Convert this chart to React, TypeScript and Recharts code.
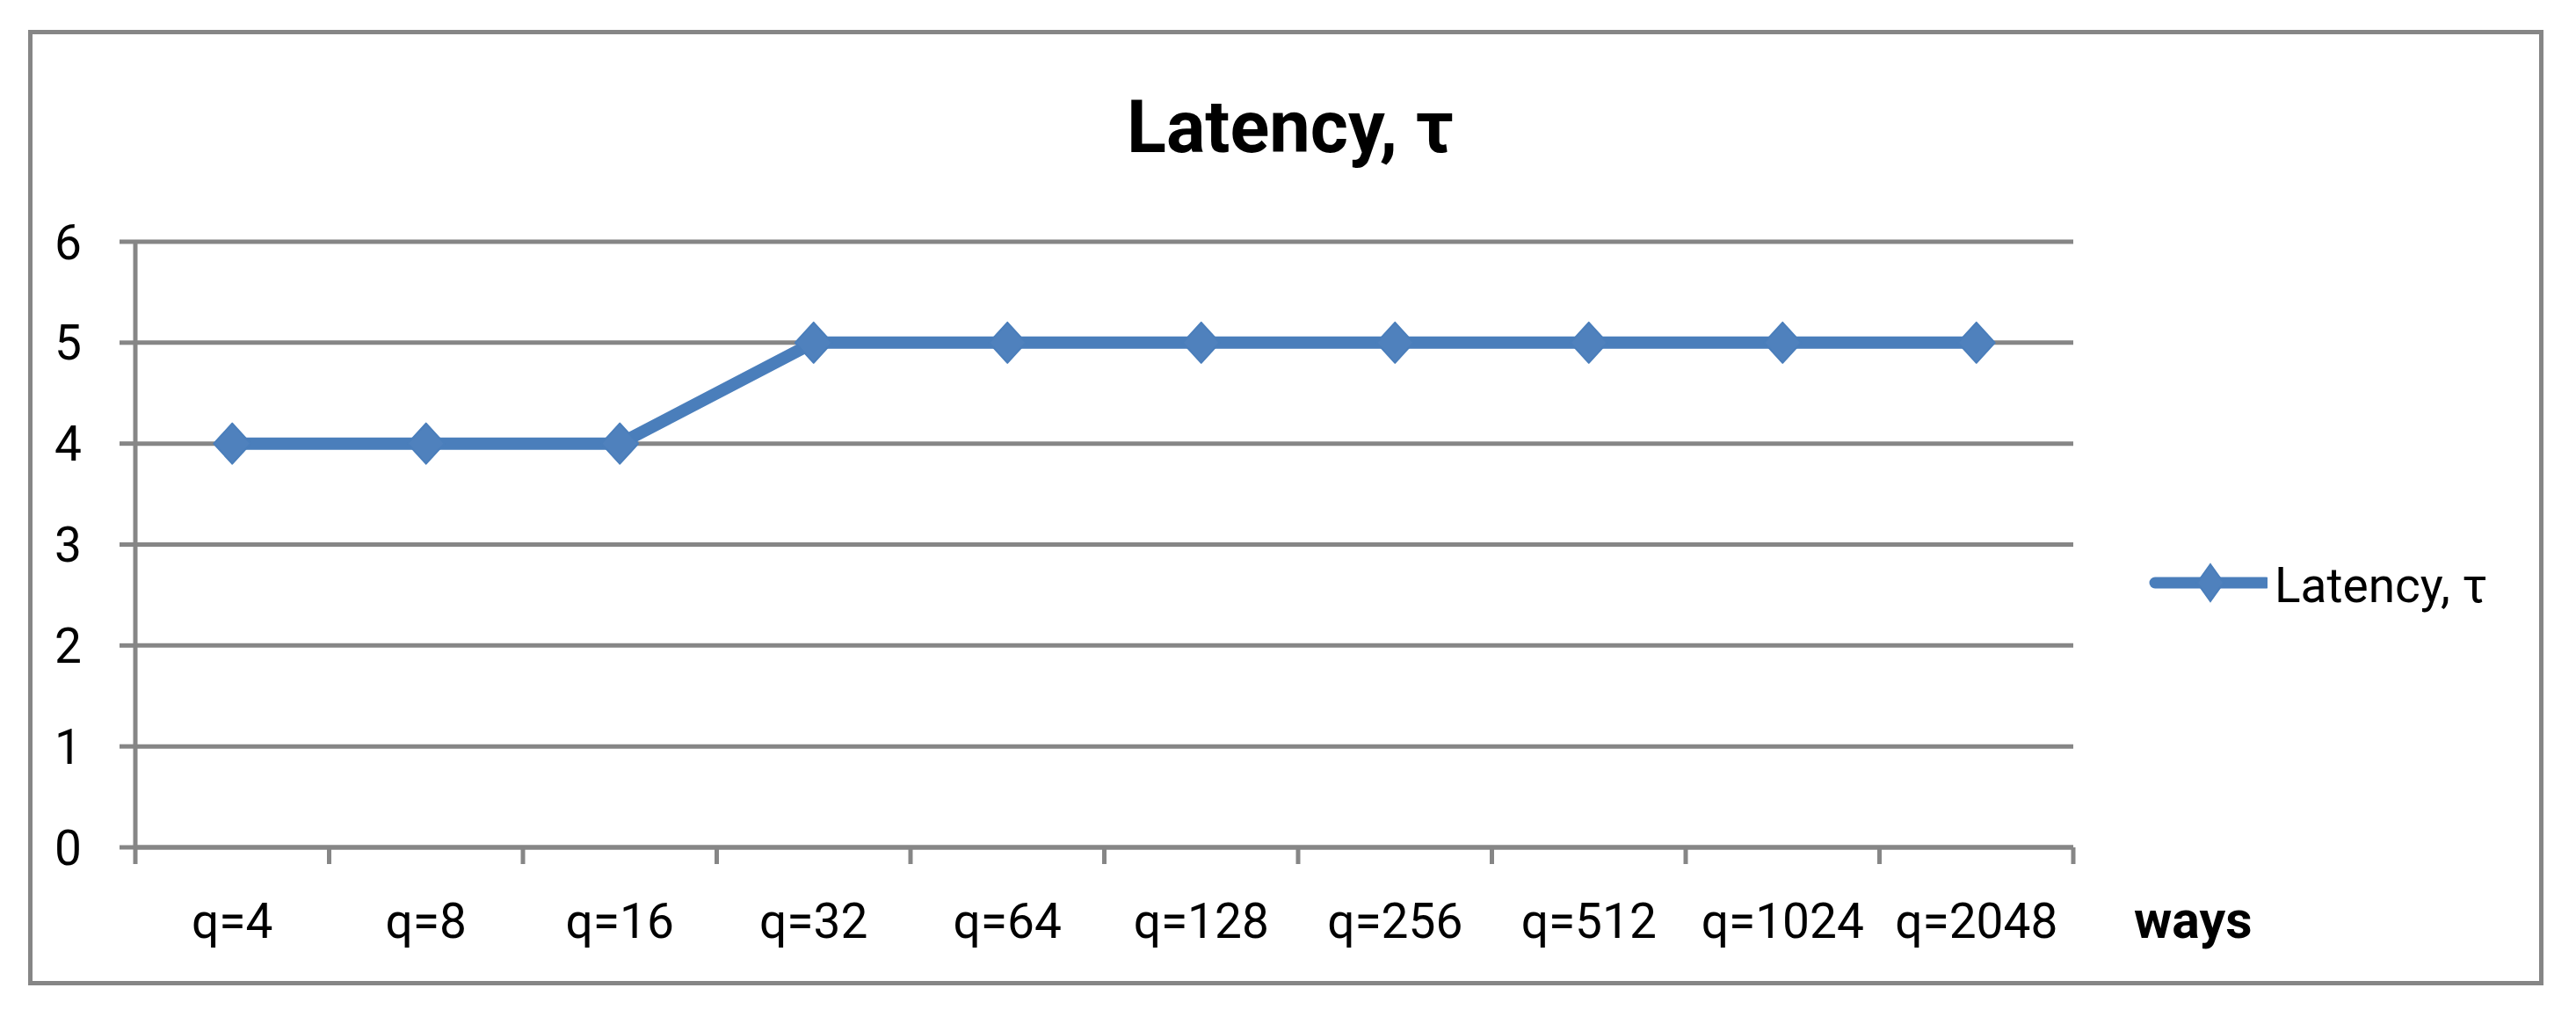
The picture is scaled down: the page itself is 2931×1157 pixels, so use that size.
import React from 'react';
import { LineChart, Line, XAxis, YAxis, CartesianGrid, Legend } from 'recharts';

const categories = ['q=4', 'q=8', 'q=16', 'q=32', 'q=64', 'q=128', 'q=256', 'q=512', 'q=1024', 'q=2048'];
const latency = [4, 4, 4, 5, 5, 5, 5, 5, 5, 5];
const yTicks = [0, 1, 2, 3, 4, 5, 6];
const seriesName = 'Latency, τ';
const titleText = 'Latency, τ';
const xAxisTitle = 'ways';

const data = categories.map((c, i) => ({ ways: c, latency: latency[i], slot: i }));
const boundaryTicks = [...categories.map((_, i) => i), categories.length];

const GRID = '#868686';
const LINE = '#4A7EBB';
const MARKER = '#4F81BD';
const FONT = 'Roboto, "Open Sans", sans-serif';

const Diamond = (props: any) => {
  const { cx, cy, index } = props;
  if (cx == null || cy == null) return <g key={`d-${index}`} />;
  const w = 21;
  const h = 23;
  return (
    <polygon
      key={`d-${index}`}
      points={`${cx},${cy - h} ${cx + w},${cy} ${cx},${cy + h} ${cx - w},${cy}`}
      fill={MARKER}
      stroke={LINE}
      strokeWidth={2}
      strokeLinejoin="round"
    />
  );
};

const EmptyTick = () => <g />;

const LegendContent = () => (
  <div style={{ display: 'flex', alignItems: 'center', fontFamily: FONT }}>
    <svg width={140} height={50} style={{ display: 'block' }}>
      <line x1={12} y1={25} x2={138} y2={25} stroke={LINE} strokeWidth={13} strokeLinecap="round" />
      <polygon points="75,4 90,25 75,46 60,25" fill={MARKER} stroke={LINE} strokeWidth={2} />
    </svg>
    <span style={{ fontSize: 55, color: '#000', marginLeft: 8, lineHeight: 1, position: 'relative', top: 4 }}>
      {seriesName}
    </span>
  </div>
);

export default function App() {
  return (
    <div style={{ position: 'absolute', left: 0, top: 0, width: 2931, height: 1157, background: '#fff' }}>
      <div
        style={{
          position: 'absolute',
          left: 32,
          top: 34,
          width: 2862,
          height: 1087,
          border: `5px solid ${GRID}`,
          boxSizing: 'border-box',
        }}
      />
      <div
        style={{
          position: 'absolute',
          left: 968,
          top: 103,
          width: 1000,
          textAlign: 'center',
          fontFamily: FONT,
          fontWeight: 700,
          fontSize: 83,
          lineHeight: 1,
          color: '#000',
        }}
      >
        {titleText}
      </div>
      <div
        style={{
          position: 'absolute',
          left: 2428,
          top: 1017,
          fontFamily: FONT,
          fontWeight: 700,
          fontSize: 59,
          lineHeight: 1,
          color: '#000',
        }}
      >
        {xAxisTitle}
      </div>
      <div style={{ position: 'absolute', left: 0, top: 0 }}>
        <LineChart
          width={2931}
          height={1157}
          data={data}
          margin={{ top: 275, right: 572, bottom: 92, left: 14 }}
        >
          <CartesianGrid
            xAxisId="labels"
            vertical={false}
            stroke={GRID}
            strokeWidth={5}
          />
          <XAxis
            xAxisId="agrid"
            type="number"
            dataKey="slot"
            domain={[0, categories.length]}
            ticks={boundaryTicks}
            allowDataOverflow
            interval={0}
            height={1}
            tick={EmptyTick}
            tickSize={19}
            axisLine={{ stroke: GRID, strokeWidth: 5 }}
            tickLine={{ stroke: GRID, strokeWidth: 5 }}
          />
          <XAxis
            xAxisId="labels"
            dataKey="ways"
            scale="band"
            interval={0}
            height={100}
            axisLine={false}
            tickLine={false}
            tickSize={0}
            tickMargin={63}
            tick={{ fontSize: 55, fill: '#000', fontFamily: FONT }}
          />
          <YAxis
            width={140}
            domain={[0, 6]}
            ticks={yTicks}
            interval={0}
            tickSize={18}
            tickMargin={43}
            axisLine={{ stroke: GRID, strokeWidth: 5 }}
            tickLine={{ stroke: GRID, strokeWidth: 5 }}
            tick={{ fontSize: 55, fill: '#000', fontFamily: FONT }}
          />
          <Legend
            layout="vertical"
            align="center"
            verticalAlign="middle"
            wrapperStyle={{ left: 2440, top: 635, width: 460, height: 50 }}
            content={<LegendContent />}
          />
          <Line
            xAxisId="labels"
            type="linear"
            dataKey="latency"
            name={seriesName}
            stroke={LINE}
            strokeWidth={14}
            dot={Diamond}
            activeDot={false}
            isAnimationActive={false}
          />
        </LineChart>
      </div>
    </div>
  );
}
